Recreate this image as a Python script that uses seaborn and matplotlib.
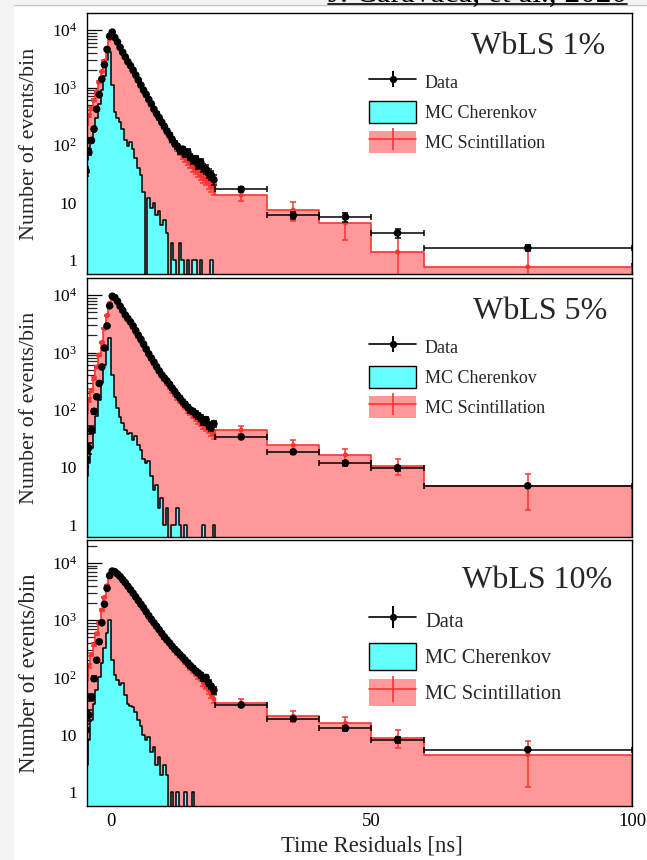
import numpy as np
import pandas as pd
import matplotlib
matplotlib.use("Agg")
import matplotlib.pyplot as plt
import seaborn as sns
from matplotlib.lines import Line2D
from matplotlib.patches import Patch, Rectangle
from matplotlib.legend_handler import HandlerTuple
from matplotlib.ticker import LogLocator, NullFormatter, FixedLocator, FixedFormatter

sns.set_theme(style="white")
plt.rcParams["font.family"] = ["Liberation Serif", "DejaVu Serif"]
plt.rcParams["mathtext.fontset"] = "custom"
plt.rcParams["mathtext.rm"] = "Liberation Serif"
plt.rcParams["mathtext.it"] = "Liberation Serif:italic"
plt.rcParams["mathtext.bf"] = "Liberation Serif:bold"
plt.rcParams["mathtext.default"] = "regular"

# ---------------- binning ----------------
fine_edges = np.arange(-5.0, 20.0 + 0.25, 0.5)
coarse_edges = [30.0, 40.0, 50.0, 60.0, 100.0]
edges = np.concatenate([fine_edges, coarse_edges])
bin_list = [float(e) for e in edges]

# ---------------- WbLS 1% ----------------
data_1_fine = [35, 75, 120, 190, 420, 750, 1400, 2500, 4600, 7800,
               9200, 7400, 6200, 5000, 4100, 3400, 2800, 2400, 2000, 1650,
               1350, 1100, 900, 760, 620, 520, 420, 350, 300, 250,
               210, 175, 150, 125, 105, 95, 80, 85, 70, 75,
               62, 55, 58, 45, 50, 40, 38, 32, 30, 25]
scint_1_fine = [240, 330, 430, 600, 850, 1250, 1900, 2900, 4500, 7000,
                8600, 7300, 6000, 4900, 4000, 3300, 2700, 2250, 1850, 1550,
                1280, 1050, 870, 720, 600, 500, 410, 345, 290, 240,
                205, 170, 145, 120, 103, 88, 76, 66, 58, 52,
                46, 41, 37, 33, 30, 27, 25, 22, 20, 18]
cher_1_fine = [55, 90, 110, 170, 300, 520, 900, 1600, 3000, 4100,
               1100, 380, 290, 250, 190, 120, 95, 115, 85, 60,
               40, 30, 15, 0, 12, 8, 10, 6, 7, 4,
               5, 3, 0, 2, 1, 0, 2, 1, 0, 1,
               0, 1, 1, 0, 1, 0, 0, 0, 1, 0]
data_1_coarse = [17, 6.0, 5.6, 2.95, 1.62]
data_1_coarse_err = [1.5, 0.8, 1.0, 0.5, 0.2]
scint_1_coarse = [13.5, 7.4, 4.4, 1.38, 0.76]
scint_1_coarse_err = [2.8, 2.7, 2.2, 1.5, 1.05]
cher_1_coarse = [0, 0, 0, 0, 0]

# ---------------- WbLS 5% ----------------
data_5_fine = [14, 22, 45, 95, 170, 290, 560, 1200, 2900, 6500,
               9500, 9000, 7800, 6400, 5400, 4500, 3900, 3400, 2900, 2400,
               2000, 1700, 1400, 1150, 950, 800, 680, 570, 480, 410,
               360, 320, 280, 240, 210, 180, 160, 140, 125, 112,
               100, 95, 85, 80, 72, 62, 68, 55, 50, 58]
scint_5_fine = [100, 150, 220, 350, 560, 900, 1500, 2600, 4400, 7200,
                9300, 8800, 7600, 6300, 5300, 4400, 3700, 3150, 2650, 2200,
                1850, 1550, 1300, 1080, 900, 760, 640, 540, 460, 390,
                335, 290, 250, 215, 190, 165, 145, 128, 113, 100,
                90, 81, 73, 66, 60, 55, 50, 46, 42, 38]
cher_5_fine = [7, 12, 22, 40, 80, 150, 300, 600, 1100, 1800,
               400, 170, 110, 75, 60, 45, 38, 40, 30, 35,
               25, 20, 14, 12, 13, 7, 4, 5, 2, 3,
               1, 2, 0, 1, 1, 2, 1, 0, 1, 0,
               0, 0, 0, 0, 0, 1, 0, 0, 0, 1]
data_5_coarse = [34, 18.7, 12, 9.8, 4.8]
data_5_coarse_err = [2.0, 1.5, 1.2, 1.0, 0.3]
scint_5_coarse = [45, 24.5, 16.6, 10.6, 4.8]
scint_5_coarse_err = [7.5, 5.3, 4.3, 3.2, 3.0]
cher_5_coarse = [0, 0, 0, 0, 0]

# ---------------- WbLS 10% ----------------
data_10_fine = [12, 22, 45, 95, 200, 420, 900, 1900, 3600, 6000,
                7200, 7000, 6400, 5800, 5100, 4500, 3900, 3400, 2950, 2550,
                2200, 1900, 1650, 1400, 1200, 1030, 900, 780, 680, 590,
                510, 450, 400, 350, 310, 280, 250, 225, 200, 180,
                160, 145, 130, 120, 110, 95, 100, 80, 70, 60]
scint_10_fine = [100, 160, 250, 380, 580, 900, 1500, 2500, 4000, 5800,
                 6900, 6800, 6200, 5600, 4950, 4350, 3800, 3300, 2850, 2450,
                 2120, 1830, 1580, 1360, 1170, 1010, 870, 760, 660, 570,
                 500, 440, 385, 340, 300, 265, 235, 210, 185, 165,
                 148, 132, 118, 106, 95, 80, 70, 60, 50, 42]
cher_10_fine = [3, 8, 18, 35, 60, 100, 180, 330, 600, 1000,
                200, 110, 90, 75, 80, 50, 35, 32, 30, 25,
                18, 14, 10, 8, 9, 5, 6, 3, 4, 2,
                3, 2, 0, 1, 0, 1, 0, 0, 1, 0,
                0, 1, 0, 0, 0, 0, 0, 0, 0, 0]
data_10_coarse = [33, 19, 13, 8.1, 5.5]
data_10_coarse_err = [2.0, 1.5, 1.2, 1.0, 0.4]
scint_10_coarse = [36, 21, 16, 8.9, 4.5]
scint_10_coarse_err = [6.0, 4.5, 4.0, 3.0, 3.3]
cher_10_coarse = [0, 0, 0, 0, 0]

titles = ["WbLS 1%", "WbLS 5%", "WbLS 10%"]
legend_labels = ["Data", "MC Cherenkov", "MC Scintillation"]
ytick_vals = [1, 10, 100, 1000, 10000]
ytick_labels = ["1", "10", "$10^{2}$", "$10^{3}$", "$10^{4}$"]
xtick_vals = [0, 50, 100]
xtick_labels = ["0", "50", "100"]

CYAN = "#66ffff"
PINK = "#ff9999"
RED = "#ff3333"

W, H = 647, 860
fig = plt.figure(figsize=(W / 100, H / 100), dpi=100)
fig.patch.set_facecolor("white")

# page margins from the screenshot
fig.patches.append(Rectangle((0, 0), 14 / W, 1, transform=fig.transFigure,
                             facecolor="#f3f3f3", edgecolor="none", zorder=0))
fig.patches.append(Rectangle((0, 1 - 4 / H), 1, 4 / H, transform=fig.transFigure,
                             facecolor="#f3f3f3", edgecolor="none", zorder=0))
fig.add_artist(Line2D([14 / W, 1], [1 - 4.5 / H, 1 - 4.5 / H], transform=fig.transFigure,
                      color="#c4c4c4", lw=1))
fig.text(627 / W, 1 - 1.5 / H, "J. Caravaca, et al., 2020", ha="right", va="baseline",
         fontsize=22.5, color="black")
fig.add_artist(Line2D([328 / W, 627 / W], [1 - 3.8 / H, 1 - 3.8 / H], transform=fig.transFigure,
                      color="black", lw=1.2))

centers = 0.5 * (edges[:-1] + edges[1:])
halfw = 0.5 * np.diff(edges)

panels = [
    dict(top=13, bottom=274, data=data_1_fine + data_1_coarse,
         derr_c=data_1_coarse_err, scint=scint_1_fine + scint_1_coarse,
         serr_c=scint_1_coarse_err, cher=cher_1_fine + cher_1_coarse,
         ylog=(-0.243, 4.296), title=titles[0], tx=605, ty=47,
         lfs=13, row2=101, P=22, pitch=30, bar=12.2, ylfs=15.8),
    dict(top=278, bottom=537, data=data_5_fine + data_5_coarse,
         derr_c=data_5_coarse_err, scint=scint_5_fine + scint_5_coarse,
         serr_c=scint_5_coarse_err, cher=cher_5_fine + cher_5_coarse,
         ylog=(-0.209, 4.296), title=titles[1], tx=607, ty=311,
         lfs=13, row2=366, P=22, pitch=30, bar=12.2, ylfs=15.8),
    dict(top=540, bottom=806, data=data_10_fine + data_10_coarse,
         derr_c=data_10_coarse_err, scint=scint_10_fine + scint_10_coarse,
         serr_c=scint_10_coarse_err, cher=cher_10_fine + cher_10_coarse,
         ylog=(-0.245, 4.40), title=titles[2], tx=612, ty=580,
         lfs=14.7, row2=643, P=27, pitch=36, bar=15.8, ylfs=16.5),
]

nfine = len(fine_edges) - 1
for k, p in enumerate(panels):
    top, bot = p["top"], p["bottom"]
    ax = fig.add_axes([87 / W, 1 - bot / H, 545 / W, (bot - top) / H])
    ax.set_facecolor("white")
    ax.set_axisbelow(True)

    df = pd.DataFrame({"t": centers, "data": p["data"], "scint": p["scint"], "cher": p["cher"]})
    data_err = np.concatenate([np.sqrt(np.array(p["data"][:nfine], float)), p["derr_c"]])
    scint_err = np.concatenate([np.sqrt(np.array(p["scint"][:nfine], float)), p["serr_c"]])

    sns.histplot(data=df, x="t", weights="scint", bins=bin_list, element="step", fill=True,
                 color=PINK, facecolor=PINK, edgecolor=RED, linewidth=1.2, ax=ax, zorder=1.1)
    sns.histplot(data=df, x="t", weights="cher", bins=bin_list, element="step", fill=True,
                 color=CYAN, facecolor=CYAN, edgecolor="black", linewidth=1.1, ax=ax, zorder=1.2)

    # MC scintillation points
    ax.errorbar(df["t"], df["scint"], yerr=scint_err, fmt="none", ecolor=RED,
                elinewidth=1.1, capsize=2, capthick=1.1, zorder=3)
    sns.scatterplot(data=df, x="t", y="scint", color=RED, s=13, edgecolor="none",
                    ax=ax, zorder=3.1, legend=False)
    # data points
    ax.errorbar(df["t"], df["data"], xerr=halfw, yerr=data_err, fmt="none", ecolor="black",
                elinewidth=1.1, capsize=2, capthick=1.1, zorder=4)
    sns.scatterplot(data=df, x="t", y="data", color="black", s=30, edgecolor="none",
                    ax=ax, zorder=4.1, legend=False)

    ax.set_yscale("log")
    ax.set_xlim(-4.6, 100)
    ax.set_ylim(10 ** p["ylog"][0], 10 ** p["ylog"][1])
    ax.yaxis.set_major_locator(FixedLocator(ytick_vals))
    ax.yaxis.set_major_formatter(FixedFormatter(ytick_labels))
    ax.yaxis.set_minor_locator(LogLocator(base=10, subs=np.arange(2, 10)))
    ax.yaxis.set_minor_formatter(NullFormatter())
    ax.tick_params(axis="y", which="major", direction="in", length=11, width=0.9,
                   left=True, labelsize=12.5, pad=7, colors="black")
    ax.tick_params(axis="y", which="minor", direction="in", length=7, width=0.9, left=True)
    ax.set_xticks(xtick_vals)
    if k == 2:
        ax.set_xticklabels(xtick_labels)
        ax.tick_params(axis="x", direction="in", length=8, bottom=True, labelsize=13.5,
                       pad=5, colors="black")
    else:
        ax.set_xticklabels([])
        ax.tick_params(axis="x", direction="in", length=8, bottom=True)
    for s in ax.spines.values():
        s.set_color("black")
        s.set_linewidth(1.0)
        s.set_zorder(5)
    ax.set_xlabel("")
    ax.set_ylabel("")

    ax.text((p["tx"] - 87) / 545, 1 - (p["ty"] - top) / (bot - top), p["title"],
            transform=ax.transAxes, ha="right", va="center", fontsize=23, zorder=6)

    # legend geometry: each row's handle box is exactly the patch height P
    fs_px = p["lfs"] * 100 / 72
    hh = (p["P"] / fs_px - 0.245) / 0.65
    row1_top = p["row2"] - p["pitch"]
    h_data = (Line2D([], [], color="black", lw=1.2, marker="o", ms=4.2),
              Line2D([], [], color="black", lw=0, marker="|", ms=p["bar"], mew=1.4))
    h_cher = Patch(facecolor=CYAN, edgecolor="black", lw=1.0)
    h_scint = (Patch(facecolor=PINK, edgecolor="none"),
               Line2D([], [], color=RED, lw=1.2, marker="|", ms=p["P"] * 0.72, mew=1.2))
    ax.legend([h_data, h_cher, h_scint], legend_labels, loc="upper left",
              bbox_to_anchor=((369 - 87) / 545, 1 - (row1_top - top) / (bot - top)),
              frameon=False, fontsize=p["lfs"], handlelength=47 / fs_px,
              handleheight=hh, labelspacing=(p["pitch"] - p["P"]) / fs_px,
              handletextpad=9 / fs_px, borderpad=0, borderaxespad=0,
              handler_map={tuple: HandlerTuple(ndivide=1, pad=0)})

    fig.text(29.5 / W, 1 - 0.5 * (top + bot) / H, "Number of events/bin", rotation=90,
             ha="center", va="center", fontsize=p["ylfs"])

fig.text(372 / W, 1 - 846 / H, "Time Residuals [ns]", ha="center", va="center", fontsize=16.3)

fig.savefig("out.png", dpi=100)
